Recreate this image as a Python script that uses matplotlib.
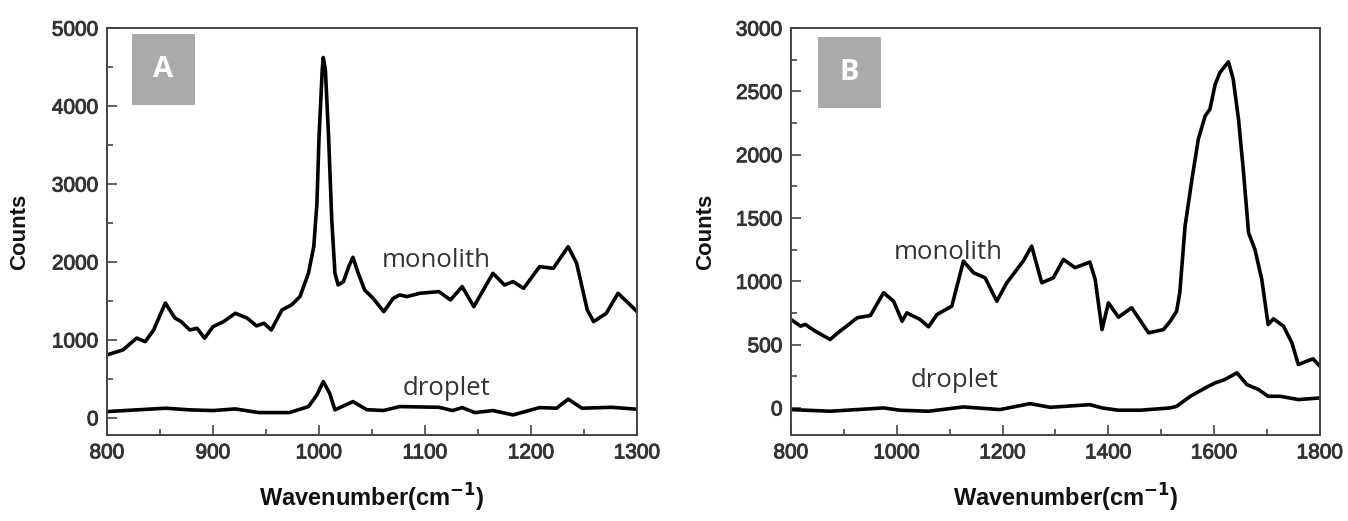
import numpy as np
import matplotlib.pyplot as plt
import matplotlib.patheffects as pe
from matplotlib.ticker import MultipleLocator
from matplotlib.patches import Rectangle

# panel A: 800-1300 cm-1
wn_a_mono = [800, 815, 828, 836, 844, 855, 864, 870, 878, 885, 892, 900, 910, 921, 932, 941,
             948, 955, 965, 974, 982, 990, 995, 998, 1000, 1003, 1004, 1006, 1009, 1012,
             1015, 1018, 1023, 1028, 1032, 1037, 1043, 1051, 1061, 1070, 1076, 1083, 1095,
             1113, 1124, 1135, 1146, 1164, 1175, 1183, 1193, 1208, 1221, 1235, 1243, 1253,
             1259, 1271, 1282, 1292, 1300]
cnt_a_mono = [808, 872, 1024, 978, 1128, 1474, 1282, 1235, 1128, 1150, 1022, 1171, 1235, 1342,
              1282, 1180, 1214, 1128, 1385, 1449, 1556, 1855, 2196, 2752, 3607, 4462, 4624,
              4462, 3607, 2538, 1855, 1705, 1748, 1940, 2060, 1855, 1641, 1534, 1363, 1534,
              1577, 1556, 1598, 1620, 1513, 1684, 1427, 1855, 1705, 1748, 1662, 1940, 1919,
              2196, 1983, 1385, 1235, 1342, 1598, 1470, 1363]

wn_a_drop = [800, 855, 878, 900, 921, 943, 972, 990, 998, 1004, 1010, 1015, 1032, 1045, 1061,
             1076, 1113, 1126, 1135, 1147, 1164, 1183, 1208, 1224, 1235, 1248, 1276, 1300]
cnt_a_drop = [81, 124, 103, 94, 115, 68, 68, 145, 295, 466, 316, 103, 209, 105, 95, 145, 136,
              94, 132, 68, 94, 38, 132, 124, 240, 124, 136, 111]

# panel B: 800-1800 cm-1
wn_b_mono = [800, 818, 827, 843, 874, 887, 909, 925, 950, 975, 994, 1010, 1019, 1044, 1060,
             1076, 1104, 1126, 1145, 1167, 1189, 1208, 1239, 1255, 1274, 1296, 1315, 1337,
             1365, 1375, 1388, 1400, 1419, 1444, 1476, 1504, 1517, 1529, 1535, 1545, 1558,
             1570, 1583, 1592, 1602, 1611, 1627, 1636, 1646, 1655, 1665, 1677, 1690, 1702,
             1712, 1731, 1747, 1759, 1775, 1787, 1800]
cnt_b_mono = [699, 646, 660, 614, 540, 588, 659, 712, 730, 910, 843, 685, 751, 699, 641, 738,
              804, 1160, 1068, 1028, 843, 989, 1160, 1278, 989, 1028, 1173, 1108, 1152, 1015,
              619, 830, 717, 791, 593, 619, 685, 764, 910, 1437, 1806, 2123, 2307, 2360, 2558,
              2650, 2734, 2597, 2281, 1885, 1384, 1252, 1015, 659, 704, 646, 514, 343, 369,
              388, 329]

wn_b_drop = [800, 874, 975, 1006, 1060, 1126, 1195, 1252, 1290, 1365, 1388, 1419, 1460, 1517,
             1529, 1555, 1583, 1602, 1620, 1643, 1662, 1684, 1702, 1725, 1759, 1800]
cnt_b_drop = [-13, -26, 0, -18, -26, 8, -13, 34, 5, 26, 0, -18, -18, 0, 13, 92, 158, 198, 224,
              277, 184, 145, 92, 92, 66, 79]

TICK_FONT = ['Liberation Sans', 'DejaVu Sans']
NOTE_FONT = ['Open Sans', 'DejaVu Sans']
THICK = [pe.withStroke(linewidth=0.7, foreground='#333333')]

fig = plt.figure(figsize=(13.48, 5.21), dpi=100)
ax_a = fig.add_axes([0.0794, 0.165, 0.3932, 0.781])
ax_b = fig.add_axes([0.5868, 0.165, 0.3924, 0.781])


def style_axes(ax, xmaj, xmin, ymaj, ymin):
    for side in ['left', 'bottom', 'top', 'right']:
        ax.spines[side].set_color('#444444')
        ax.spines[side].set_linewidth(1.4)
    ax.xaxis.set_major_locator(MultipleLocator(xmaj))
    ax.xaxis.set_minor_locator(MultipleLocator(xmin))
    ax.yaxis.set_major_locator(MultipleLocator(ymaj))
    ax.yaxis.set_minor_locator(MultipleLocator(ymin))
    ax.tick_params(which='both', direction='in', top=False, right=False,
                   color='#444444', width=1.2)
    ax.tick_params(which='major', length=7, labelsize=15, labelcolor='#333333', pad=6)
    ax.tick_params(which='minor', length=4)
    for lab in ax.get_xticklabels() + ax.get_yticklabels():
        lab.set_family(TICK_FONT)
        lab.set_path_effects(THICK)
    ax.set_ylabel('Counts', family=TICK_FONT, fontsize=16, fontweight='bold', color='#111111')
    ax.set_xlabel('Wavenumber(cm$^{\\mathbf{-1}}$)', family=TICK_FONT, fontsize=17,
                  fontweight='bold', color='#111111')


def panel_box(ax, x0, y0, w, h, letter):
    ax.add_patch(Rectangle((x0, y0), w, h, transform=ax.transAxes, facecolor='#aaaaaa',
                           edgecolor='none', zorder=3))
    ax.text(x0 + w / 2, y0 + h / 2, letter, transform=ax.transAxes, ha='center', va='center',
            color='white', fontsize=21, fontweight='bold', family=NOTE_FONT, zorder=4)


# panel A
ax_a.plot(wn_a_mono, cnt_a_mono, color='black', lw=2.6, solid_joinstyle='round')
ax_a.plot(wn_a_drop, cnt_a_drop, color='black', lw=2.6, solid_joinstyle='round')
ax_a.set_xlim(800, 1300)
ax_a.set_ylim(-220, 5000)
style_axes(ax_a, 100, 50, 1000, 500)
ax_a.yaxis.set_label_coords(-0.145, 0.5)
ax_a.xaxis.set_label_coords(0.50, -0.115)
ax_a.text(1111, 1936, 'monolith', family=NOTE_FONT, fontsize=18.5, color='#333333',
          ha='center', va='baseline')
ax_a.text(1120, 290, 'droplet', family=NOTE_FONT, fontsize=18.5, color='#333333',
          ha='center', va='baseline')
panel_box(ax_a, 0.047, 0.811, 0.119, 0.174, 'A')

# panel B
ax_b.plot(wn_b_mono, cnt_b_mono, color='black', lw=2.6, solid_joinstyle='round')
ax_b.plot(wn_b_drop, cnt_b_drop, color='black', lw=2.6, solid_joinstyle='round')
ax_b.set_xlim(800, 1800)
ax_b.set_ylim(-214, 3000)
style_axes(ax_b, 200, 100, 500, 250)
ax_b.yaxis.set_label_coords(-0.142, 0.5)
ax_b.xaxis.set_label_coords(0.52, -0.115)
ax_b.text(1097, 1173, 'monolith', family=NOTE_FONT, fontsize=18.5, color='#333333',
          ha='center', va='baseline')
ax_b.text(1110, 168, 'droplet', family=NOTE_FONT, fontsize=18.5, color='#333333',
          ha='center', va='baseline')
panel_box(ax_b, 0.051, 0.803, 0.119, 0.175, 'B')

fig.savefig('out.png', dpi=100)
